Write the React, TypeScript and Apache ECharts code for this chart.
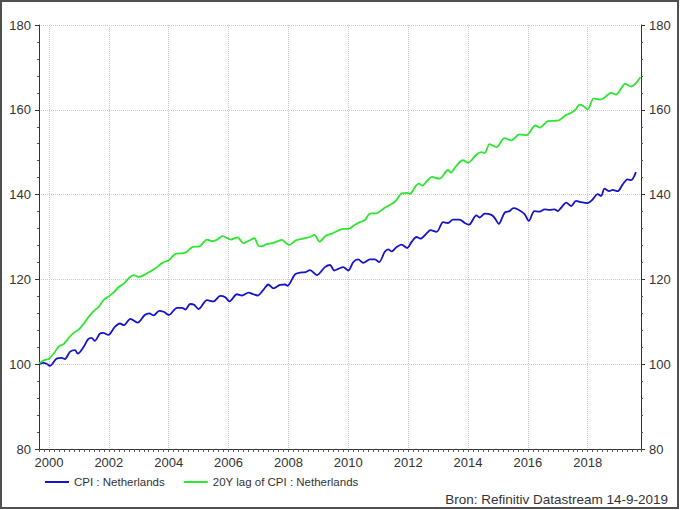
import React, { useEffect, useRef } from "react";
import * as echarts from "echarts";

// ---- Data ----
const seriesNames = ["CPI : Netherlands", "20Y lag of CPI : Netherlands"];
const yearLabels = [2000, 2002, 2004, 2006, 2008, 2010, 2012, 2014, 2016, 2018];
const xStart = 1999 + 2 / 3; // Sep 1999
const xEnd = 2019.78; // Oct 2019
const yMin = 80;
const yMax = 180;
const yStep = 20;
const sourceNote = "Bron: Refinitiv Datastream 14-9-2019";

// [decimal year, index value]
const cpiNetherlands: [number, number][] = [
  [1999.67, 100.0], [1999.8, 100.3], [1999.92, 100.1], [2000.03, 99.6], [2000.25, 101.3], [2000.42, 101.5],
  [2000.53, 101.2], [2000.7, 102.9], [2000.87, 103.3], [2000.96, 102.5], [2001.15, 104.0], [2001.31, 105.9],
  [2001.42, 106.2], [2001.53, 105.5], [2001.7, 107.2], [2001.81, 107.4], [2001.98, 106.9], [2002.2, 108.8],
  [2002.37, 109.6], [2002.5, 109.2], [2002.72, 110.7], [2002.96, 109.8], [2003.2, 111.6], [2003.35, 112.0],
  [2003.5, 111.5], [2003.68, 112.6], [2003.85, 112.3], [2004.0, 111.6], [2004.28, 113.3], [2004.45, 113.3],
  [2004.56, 112.9], [2004.72, 114.2], [2004.85, 114.0], [2005.0, 113.0], [2005.28, 115.1], [2005.5, 114.8],
  [2005.72, 116.1], [2005.89, 115.8], [2006.03, 114.8], [2006.28, 116.5], [2006.45, 116.2], [2006.67, 116.9],
  [2006.83, 116.5], [2006.97, 116.2], [2007.17, 117.6], [2007.33, 118.8], [2007.5, 117.9], [2007.72, 118.7],
  [2007.89, 118.8], [2007.97, 118.5], [2008.22, 121.2], [2008.39, 121.6], [2008.56, 121.7], [2008.72, 122.2],
  [2008.95, 121.0], [2009.22, 122.9], [2009.39, 123.4], [2009.53, 122.1], [2009.67, 122.5], [2009.83, 122.9],
  [2010.0, 122.1], [2010.17, 124.1], [2010.33, 124.7], [2010.5, 123.9], [2010.72, 124.7], [2010.89, 124.7],
  [2011.03, 124.1], [2011.22, 126.5], [2011.33, 127.1], [2011.45, 126.6], [2011.61, 127.6], [2011.78, 128.2],
  [2011.97, 127.4], [2012.11, 128.8], [2012.28, 130.0], [2012.41, 129.6], [2012.61, 130.8], [2012.75, 131.6],
  [2012.95, 131.2], [2013.17, 133.5], [2013.33, 133.3], [2013.5, 134.1], [2013.72, 134.1], [2013.89, 133.3],
  [2014.03, 132.9], [2014.28, 135.1], [2014.39, 134.6], [2014.56, 135.5], [2014.78, 135.2], [2014.89, 134.5],
  [2015.03, 133.1], [2015.22, 135.7], [2015.39, 136.1], [2015.52, 136.8], [2015.67, 136.5], [2015.89, 135.4],
  [2016.03, 133.8], [2016.22, 136.1], [2016.39, 136.0], [2016.56, 136.5], [2016.72, 136.4], [2016.89, 136.5],
  [2017.0, 136.1], [2017.11, 136.9], [2017.28, 138.1], [2017.45, 137.3], [2017.61, 138.5], [2017.78, 138.2],
  [2018.0, 138.0], [2018.17, 138.9], [2018.33, 140.1], [2018.45, 139.7], [2018.56, 141.4], [2018.72, 140.8],
  [2018.83, 141.1], [2019.0, 140.8], [2019.17, 142.4], [2019.33, 143.6], [2019.45, 143.4], [2019.61, 145.3],
];

const lagCpiNetherlands: [number, number][] = [
  [1999.67, 100.2], [1999.83, 100.9], [2000.0, 101.3], [2000.17, 102.6], [2000.33, 104.2], [2000.5, 104.8],
  [2000.67, 106.3], [2000.83, 107.4], [2001.0, 108.2], [2001.17, 109.6], [2001.33, 111.2], [2001.5, 112.6],
  [2001.67, 113.6], [2001.83, 115.2], [2002.0, 116.0], [2002.17, 117.0], [2002.33, 118.2], [2002.5, 119.0],
  [2002.67, 120.3], [2002.83, 121.0], [2003.0, 120.6], [2003.29, 121.5], [2003.57, 122.7], [2003.79, 123.9],
  [2004.01, 124.6], [2004.25, 126.1], [2004.5, 126.2], [2004.62, 126.6], [2004.8, 127.7], [2005.03, 127.8],
  [2005.28, 129.4], [2005.46, 129.0], [2005.62, 129.4], [2005.8, 130.2], [2006.0, 129.6], [2006.07, 129.4],
  [2006.3, 129.9], [2006.5, 128.5], [2006.67, 129.1], [2006.86, 129.7], [2007.0, 127.9], [2007.1, 127.8],
  [2007.28, 128.3], [2007.5, 128.6], [2007.78, 129.3], [2008.02, 128.1], [2008.25, 129.2], [2008.48, 129.6],
  [2008.72, 130.0], [2008.87, 130.5], [2009.04, 128.9], [2009.25, 130.3], [2009.45, 130.8], [2009.6, 131.3],
  [2009.83, 131.9], [2010.0, 131.9], [2010.22, 132.9], [2010.39, 133.5], [2010.56, 134.0], [2010.72, 135.5],
  [2010.95, 135.6], [2011.22, 136.9], [2011.45, 137.8], [2011.61, 138.7], [2011.78, 140.3], [2011.97, 140.4],
  [2012.06, 140.2], [2012.25, 142.0], [2012.36, 142.6], [2012.47, 142.1], [2012.63, 143.2], [2012.8, 144.2],
  [2013.0, 143.8], [2013.06, 143.8], [2013.33, 145.8], [2013.43, 145.2], [2013.6, 146.7], [2013.83, 148.1],
  [2014.0, 147.5], [2014.28, 149.4], [2014.45, 150.0], [2014.56, 149.8], [2014.72, 151.9], [2014.95, 151.2],
  [2015.22, 153.3], [2015.45, 152.8], [2015.72, 154.2], [2015.95, 154.0], [2016.25, 156.3], [2016.4, 155.8],
  [2016.67, 157.3], [2016.9, 157.4], [2017.06, 157.6], [2017.28, 158.8], [2017.45, 159.3], [2017.6, 160.1],
  [2017.72, 161.2], [2017.85, 160.9], [2018.0, 160.1], [2018.2, 162.7], [2018.4, 162.4], [2018.55, 162.8],
  [2018.78, 164.0], [2018.95, 163.6], [2019.25, 166.1], [2019.45, 165.5], [2019.76, 167.7],
];

const seriesColors = ["#1414cc", "#2ee62e"];

export default function App() {
  const ref = useRef<HTMLDivElement>(null);

  useEffect(() => {
    if (!ref.current) return;
    const chart = echarts.init(ref.current, null, { renderer: "svg" });
    const font = "'Liberation Sans', Arial, sans-serif";
    const axisColor = "#333333";
    const gridColor = "#c8c8c8";

    const yAxisBase = (position: "left" | "right", split: boolean) => ({
      type: "value",
      min: yMin,
      max: yMax,
      interval: yStep,
      position,
      axisLine: { show: true, lineStyle: { color: axisColor, width: 1 } },
      axisTick: { show: true, length: 4, lineStyle: { color: axisColor } },
      minorTick: { show: true, splitNumber: 5, length: 2, lineStyle: { color: "#555" } },
      axisLabel: { fontSize: 13, color: axisColor, margin: 8, fontFamily: font },
      splitLine: { show: split, lineStyle: { color: gridColor, type: "dotted", width: 1 } },
    });

    chart.setOption({
      animation: false,
      backgroundColor: "#ffffff",
      grid: { left: 39, right: 39, top: 25, bottom: 61 },
      xAxis: [
        {
          type: "value",
          min: xStart,
          max: xEnd,
          position: "bottom",
          axisLine: { show: true, onZero: false, lineStyle: { color: axisColor, width: 1 } },
          axisTick: { show: true, length: 3, customValues: yearLabels, lineStyle: { color: axisColor } },
          axisLabel: {
            customValues: yearLabels,
            fontSize: 13,
            color: axisColor,
            margin: 7,
            fontFamily: font,
            formatter: (v: number) => String(Math.round(v)),
          },
          splitLine: { show: true, lineStyle: { color: gridColor, type: "dotted", width: 1 } },
        },
        {
          type: "value",
          min: xStart,
          max: xEnd,
          interval: 1 / 6,
          position: "bottom",
          axisLine: { show: false, onZero: false },
          axisTick: { show: true, length: 3, lineStyle: { color: "#555" } },
          axisLabel: { show: false },
          splitLine: { show: false },
        },
      ],
      yAxis: [yAxisBase("left", true), yAxisBase("right", false)],
      legend: {
        left: 45,
        top: 476,
        padding: 0,
        icon: "rect",
        itemWidth: 24,
        itemHeight: 2,
        itemGap: 19,
        textStyle: { fontSize: 11.5, color: axisColor, fontFamily: font },
        data: seriesNames,
      },
      series: [
        {
          name: seriesNames[0],
          type: "line",
          xAxisIndex: 0,
          yAxisIndex: 0,
          data: cpiNetherlands,
          showSymbol: false,
          symbol: "none",
          smooth: 0.3,
          color: seriesColors[0],
          lineStyle: { width: 1.8, color: seriesColors[0] },
        },
        {
          name: seriesNames[1],
          type: "line",
          xAxisIndex: 0,
          yAxisIndex: 0,
          data: lagCpiNetherlands,
          showSymbol: false,
          symbol: "none",
          smooth: 0.3,
          color: seriesColors[1],
          lineStyle: { width: 1.8, color: seriesColors[1] },
        },
      ],
      graphic: [
        {
          type: "text",
          right: 12,
          top: 492,
          style: { text: sourceNote, fontSize: 13.5, fill: axisColor, fontFamily: font },
        },
        {
          type: "rect",
          shape: { x: 1, y: 1, width: 677, height: 507 },
          style: { fill: "none", stroke: "#505050", lineWidth: 2 },
          silent: true,
          z: 100,
        },
      ],
    });

    return () => chart.dispose();
  }, []);

  return (
    <div
      ref={ref}
      style={{ position: "fixed", left: 0, top: 0, width: 680, height: 510, background: "#fff" }}
    />
  );
}
